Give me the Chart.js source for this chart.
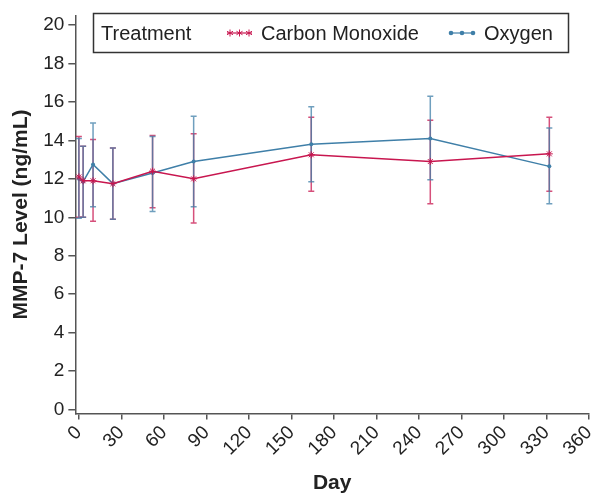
<!DOCTYPE html>
<html>
<head>
<meta charset="utf-8">
<script src="https://cdn.jsdelivr.net/npm/chart.js@4"></script>
<style>
  body { margin: 0; background: #fff; }
  #wrap { width: 594px; height: 494px; }
</style>
</head>
<body>
<div id="wrap"><canvas id="mmpChart" width="594" height="494"></canvas></div>
<script>
// days of measurement
const days = [0, 3, 10, 24, 52, 81, 164, 248, 332];

// Carbon Monoxide: mean and error bar bounds
const coMean = [12.1, 11.9, 11.9, 11.75, 12.4, 12.0, 13.25, 12.9, 13.3];
const coLow = [10.0, 10.0, 9.8, 9.9, 10.5, 9.7, 11.35, 10.7, 11.35];
const coHigh = [14.2, 13.7, 14.05, 13.6, 14.25, 14.35, 15.2, 15.05, 15.2];

// Oxygen
const oxMean = [12.0, 11.85, 12.75, 11.75, 12.3, 12.9, 13.8, 14.1, 12.65];
const oxLow = [9.95, 10.0, 10.55, 9.9, 10.3, 10.55, 11.85, 11.95, 10.7];
const oxHigh = [14.1, 13.7, 14.9, 13.6, 14.2, 15.25, 15.75, 16.3, 14.65];

const xTicks = [0, 30, 60, 90, 120, 150, 180, 210, 240, 270, 300, 330, 360];
const yTicks = [0, 2, 4, 6, 8, 10, 12, 14, 16, 18, 20];

const RED = "#c8164f";
const BLUE = "#3f7fa8";
const AXIS = "#555555";
const TEXT = "#222222";
const FONT = "'Liberation Sans', Arial, sans-serif";

const bounds = [
  [coLow, coHigh],
  [oxLow, oxHigh],
];

// error bars drawn under the lines
const errorBars = {
  id: "errorBars",
  beforeDatasetsDraw(chart) {
    const ctx = chart.ctx;
    const x = chart.scales.x;
    const y = chart.scales.y;
    chart.data.datasets.forEach((ds, i) => {
      const lo = bounds[i][0];
      const hi = bounds[i][1];
      ctx.save();
      ctx.strokeStyle = ds.borderColor;
      ctx.globalAlpha = 0.75;
      ctx.lineWidth = 1.5;
      days.forEach((d, j) => {
        const px = x.getPixelForValue(d);
        const y1 = y.getPixelForValue(lo[j]);
        const y2 = y.getPixelForValue(hi[j]);
        ctx.beginPath();
        ctx.moveTo(px, y1);
        ctx.lineTo(px, y2);
        ctx.moveTo(px - 3, y1);
        ctx.lineTo(px + 3, y1);
        ctx.moveTo(px - 3, y2);
        ctx.lineTo(px + 3, y2);
        ctx.stroke();
      });
      ctx.restore();
    });
  },
};

// legend box inside the plot, like the original
const boxLegend = {
  id: "boxLegend",
  afterDraw(chart) {
    const ctx = chart.ctx;
    ctx.save();
    ctx.strokeStyle = "#333";
    ctx.lineWidth = 1.5;
    ctx.strokeRect(93.5, 13.5, 475, 39);
    ctx.fillStyle = TEXT;
    ctx.font = "20px " + FONT;
    ctx.textBaseline = "alphabetic";
    ctx.fillText("Treatment", 101, 40);
    ctx.fillText("Carbon Monoxide", 261, 40);
    ctx.fillText("Oxygen", 484, 40);

    // red sample line with small asterisks
    ctx.strokeStyle = RED;
    ctx.lineWidth = 1.2;
    ctx.beginPath();
    ctx.moveTo(227, 33);
    ctx.lineTo(252, 33);
    ctx.stroke();
    ctx.lineWidth = 1;
    [230, 239.5, 249].forEach((cx) => {
      ctx.beginPath();
      for (let k = 0; k < 3; k++) {
        const a = Math.PI / 2 + (k * Math.PI) / 3;
        ctx.moveTo(cx - 3.5 * Math.cos(a), 33 - 3.5 * Math.sin(a));
        ctx.lineTo(cx + 3.5 * Math.cos(a), 33 + 3.5 * Math.sin(a));
      }
      ctx.stroke();
    });

    // blue sample line with dots
    ctx.strokeStyle = BLUE;
    ctx.fillStyle = BLUE;
    ctx.lineWidth = 1.2;
    ctx.beginPath();
    ctx.moveTo(449, 33);
    ctx.lineTo(475, 33);
    ctx.stroke();
    [451, 462, 473].forEach((cx) => {
      ctx.beginPath();
      ctx.arc(cx, 33, 2.3, 0, Math.PI * 2);
      ctx.fill();
    });
    ctx.restore();
  },
};

const ctx = document.getElementById("mmpChart").getContext("2d");

new Chart(ctx, {
  type: "line",
  data: {
    datasets: [
      {
        label: "Carbon Monoxide",
        data: days.map((d, i) => ({ x: d, y: coMean[i] })),
        borderColor: RED,
        backgroundColor: RED,
        borderWidth: 1.5,
        pointStyle: "star",
        pointRadius: 3.5,
        pointBorderWidth: 1,
        tension: 0,
      },
      {
        label: "Oxygen",
        data: days.map((d, i) => ({ x: d, y: oxMean[i] })),
        borderColor: BLUE,
        backgroundColor: BLUE,
        borderWidth: 1.5,
        pointStyle: "circle",
        pointRadius: 2,
        pointBorderWidth: 0,
        tension: 0,
      },
    ],
  },
  options: {
    responsive: false,
    animation: false,
    devicePixelRatio: 1,
    layout: { padding: { top: 12, right: 1, left: 9, bottom: 0 } },
    plugins: {
      legend: { display: false },
      tooltip: { enabled: false },
    },
    scales: {
      x: {
        type: "linear",
        min: -2.5,
        max: 360,
        afterBuildTicks: (scale) => {
          scale.ticks = xTicks.map((v) => ({ value: v }));
        },
        afterFit: (scale) => {
          scale.paddingRight = 0;
        },
        grid: {
          drawOnChartArea: false,
          drawTicks: true,
          tickLength: 6,
          color: AXIS,
          lineWidth: 1.5,
        },
        border: { color: AXIS, width: 1.5 },
        ticks: {
          color: TEXT,
          font: { family: FONT, size: 19 },
          minRotation: 45,
          maxRotation: 45,
          padding: 2,
        },
        title: {
          display: true,
          text: "Day",
          color: TEXT,
          font: { family: FONT, size: 21, weight: "bold", lineHeight: 1 },
          padding: { top: 11, bottom: 0 },
        },
      },
      y: {
        min: -0.2,
        max: 20.5,
        afterBuildTicks: (scale) => {
          scale.ticks = yTicks.map((v) => ({ value: v }));
        },
        grid: {
          drawOnChartArea: false,
          drawTicks: true,
          tickLength: 7,
          color: AXIS,
          lineWidth: 1.5,
        },
        border: { color: AXIS, width: 1.5 },
        ticks: {
          color: TEXT,
          font: { family: FONT, size: 19 },
          padding: 4,
        },
        title: {
          display: true,
          text: "MMP-7 Level (ng/mL)",
          color: TEXT,
          font: { family: FONT, size: 21, weight: "bold" },
          padding: { top: 0, bottom: 5 },
        },
      },
    },
  },
  plugins: [errorBars, boxLegend],
});
</script>
</body>
</html>
